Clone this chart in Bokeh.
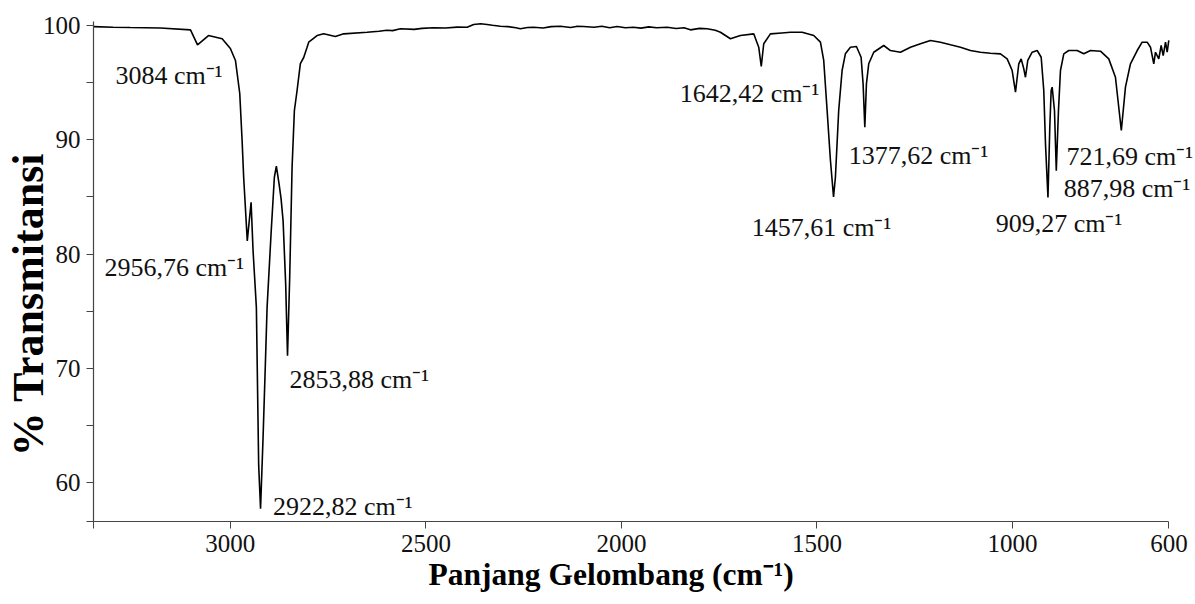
from bokeh.plotting import figure
from bokeh.models import Range1d, FixedTicker, ColumnDataSource, Title
from bokeh.core.properties import value
from bokeh.embed import file_html
from bokeh.resources import INLINE

# ---- data (wavenumber in cm-1, % transmittance) ----
wavenumber = [3350, 3300, 3256, 3179, 3102, 3084, 3056, 3021, 3000, 2987, 2976, 2970, 2966,
              2956.76, 2947, 2942, 2933.5, 2927.6, 2922.82, 2916.4, 2910.5, 2906.1, 2895.9,
              2887.5, 2882.4, 2875.5, 2870.3, 2865.2, 2858.6, 2853.88, 2848.3, 2842.2, 2836.3,
              2829.4, 2821, 2812.5, 2803.8, 2799.7, 2778.3, 2761.4, 2731.5, 2710.2, 2650.4,
              2620, 2600, 2585, 2565.2, 2530, 2510, 2480.8, 2450, 2420, 2394.6, 2377.8, 2360,
              2343.5, 2330, 2309.5, 2290, 2270, 2258.3, 2240, 2225.1, 2200, 2180, 2156, 2130,
              2115, 2097.2, 2070, 2050, 2030, 2011, 1990, 1969.3, 1950, 1930, 1910, 1883.2,
              1860, 1840, 1823.6, 1800, 1780.8, 1760, 1746.8, 1721.2, 1695.7, 1661.7, 1648.9,
              1642.42, 1636.1, 1619, 1590, 1567.8, 1537.9, 1508.2, 1491.1, 1482.7, 1474, 1465.5,
              1457.61, 1452.8, 1444.4, 1435.7, 1427.3, 1414.5, 1399.1, 1387.1, 1382, 1377.62,
              1373.5, 1367.6, 1354.8, 1329.2, 1312.1, 1286.5, 1260.9, 1235.4, 1209.8, 1184.2,
              1158.6, 1133, 1107.5, 1081.9, 1056.3, 1030.7, 1013.6, 1000.8, 992.3, 983.9,
              977.8, 971.1, 966.8, 960.9, 949.7, 936.9, 926.6, 920, 915.6, 909.27, 904.6,
              901.1, 898.5, 892.6, 887.98, 882.4, 877.3, 868.8, 856.1, 834.6, 817.7, 800.6,
              775, 753.8, 736.7, 721.69, 711.1, 698.3, 681.1, 668.4, 655.6, 647.1, 638.7,
              634.3, 625.9, 619.8, 614.6, 608.7, 604.4, 600.3]
transmittance = [99.9, 99.85, 99.82, 99.78, 99.62, 98.3, 99.12, 98.84, 97.99, 96.94, 94.05, 89.93, 86.72,
                 81.15, 84.53, 80.3, 75.33, 61.5, 57.7, 63.95, 70.38, 75.33, 81.79,
                 86.72, 87.7, 86.14, 84.82, 82.92, 77.41, 71.1, 77.96, 87.59, 92.56,
                 94.31, 96.67, 97.2, 98.1, 98.54, 99.12, 99.27, 99.04, 99.27, 99.41,
                 99.50, 99.58, 99.55, 99.71, 99.66, 99.75, 99.8, 99.78, 99.86, 99.85, 100.09, 100.15,
                 100.09, 100.02, 99.94, 99.9, 99.8, 99.71, 99.82, 99.85, 99.78, 99.9, 99.94, 99.83,
                 99.92, 99.91, 99.84, 99.93, 99.8, 99.91, 99.8, 99.85, 99.77, 99.88, 99.8, 99.85,
                 99.74, 99.8, 99.62, 99.75, 99.71, 99.58, 99.41, 98.84, 99.12, 99.27, 98.1,
                 96.41, 98.4, 99.27, 99.35, 99.41, 99.41, 99.12, 98.54, 96.94, 92.56, 88.18,
                 85.0, 86.72, 92.56, 96.06, 97.52, 98.1, 98.16, 97.22, 94.89, 91.09,
                 94.89, 96.65, 97.66, 98.25, 97.81, 97.66, 98.1, 98.4, 98.69, 98.54,
                 98.31, 98.1, 97.81, 97.66, 97.57, 97.52, 97.08, 96.06, 94.16, 96.65,
                 97.08, 96.21, 95.47, 96.94, 97.66, 97.81, 97.22, 94.31, 89.64, 84.94, 91.09,
                 94.31, 94.6, 92.56, 87.3, 92.56, 96.06, 97.52, 97.81, 97.81, 97.52, 97.81,
                 97.75, 97.08, 95.47, 90.81, 94.6, 96.65, 97.81, 98.54, 98.54, 98.1, 96.65,
                 97.66, 97.08, 98.25, 97.37, 98.54, 97.66, 98.69]

# peak annotations: text, left edge (cm-1), baseline (%T)
peak_labels = ["3084 cm⁻¹", "2956,76 cm⁻¹", "2853,88 cm⁻¹", "2922,82 cm⁻¹", "1642,42 cm⁻¹",
               "1457,61 cm⁻¹", "1377,62 cm⁻¹", "909,27 cm⁻¹", "887,98 cm⁻¹", "721,69 cm⁻¹"]
label_x = [3294, 3322, 2849, 2891, 1851, 1667, 1419, 1043, 869, 862]
label_y = [95.62, 78.81, 69.04, 57.88, 94.02, 82.31, 88.62, 82.64, 85.70, 88.53]

X_MAX, X_MIN = 3350, 600      # axis extent (cm-1), reversed
x_ticks = [3000, 2500, 2000, 1500, 1000, 600]
y_ticks = [60, 70, 80, 90, 100]
Y_MIN, Y_MAX = 56.59, 100.35
y_minor = [Y_MIN, 65, 75, 85, 95]

x_title = "Panjang Gelombang (cm⁻¹)"
y_title = "% Transmitansi"

FONT = "Liberation Serif"

p = figure(width=1195, height=604, x_range=Range1d(X_MAX, 532), y_range=Range1d(Y_MIN, Y_MAX),
           output_backend="svg", toolbar_location=None,
           min_border_left=93, min_border_right=0, min_border_top=21, min_border_bottom=83)
p.outline_line_color = None
p.xgrid.visible = False
p.ygrid.visible = False
p.background_fill_color = "white"
p.border_fill_color = "white"

p.line(wavenumber, transmittance, line_color="black", line_width=1.6)

src = ColumnDataSource(dict(x=label_x, y=label_y, t=peak_labels))
p.text(x="x", y="y", text="t", source=src, text_font=value(FONT), text_font_size="26px",
       text_baseline="alphabetic", text_align="left", text_color="#111111")

for ax in (p.xaxis[0], p.yaxis[0]):
    ax.axis_line_color = "#444444"
    ax.axis_line_width = 1.2
    ax.major_tick_line_color = "#444444"
    ax.minor_tick_line_color = "#444444"
    ax.major_tick_in = 0
    ax.minor_tick_in = 0
    ax.major_tick_out = 7
    ax.minor_tick_out = 7
    ax.major_label_text_font = FONT
    ax.major_label_text_font_size = "25px"
    ax.major_label_text_color = "#111111"

p.xaxis.bounds = (X_MIN, X_MAX)
p.yaxis.bounds = (Y_MIN, Y_MAX)
p.xaxis.ticker = FixedTicker(ticks=x_ticks, minor_ticks=[X_MAX])
p.yaxis.ticker = FixedTicker(ticks=y_ticks, minor_ticks=y_minor)
p.xaxis.major_label_standoff = 6
p.yaxis.major_label_standoff = 6

# y title: trailing no-break spaces move the visible text toward the bottom like the reference
p.yaxis.axis_label = y_title + "\u00a0" * 6
p.yaxis.axis_label_text_font = FONT
p.yaxis.axis_label_text_font_style = "bold"
p.yaxis.axis_label_text_font_size = "44px"
p.yaxis.axis_label_text_color = "#000000"
p.yaxis.axis_label_standoff = -13

xt = Title(text=x_title, align="left", offset=335, standoff=0,
           text_font=FONT, text_font_style="bold", text_font_size="31.5px", text_color="#000000")
p.add_layout(xt, "below")

open("out.html", "w").write(file_html(p, INLINE))
